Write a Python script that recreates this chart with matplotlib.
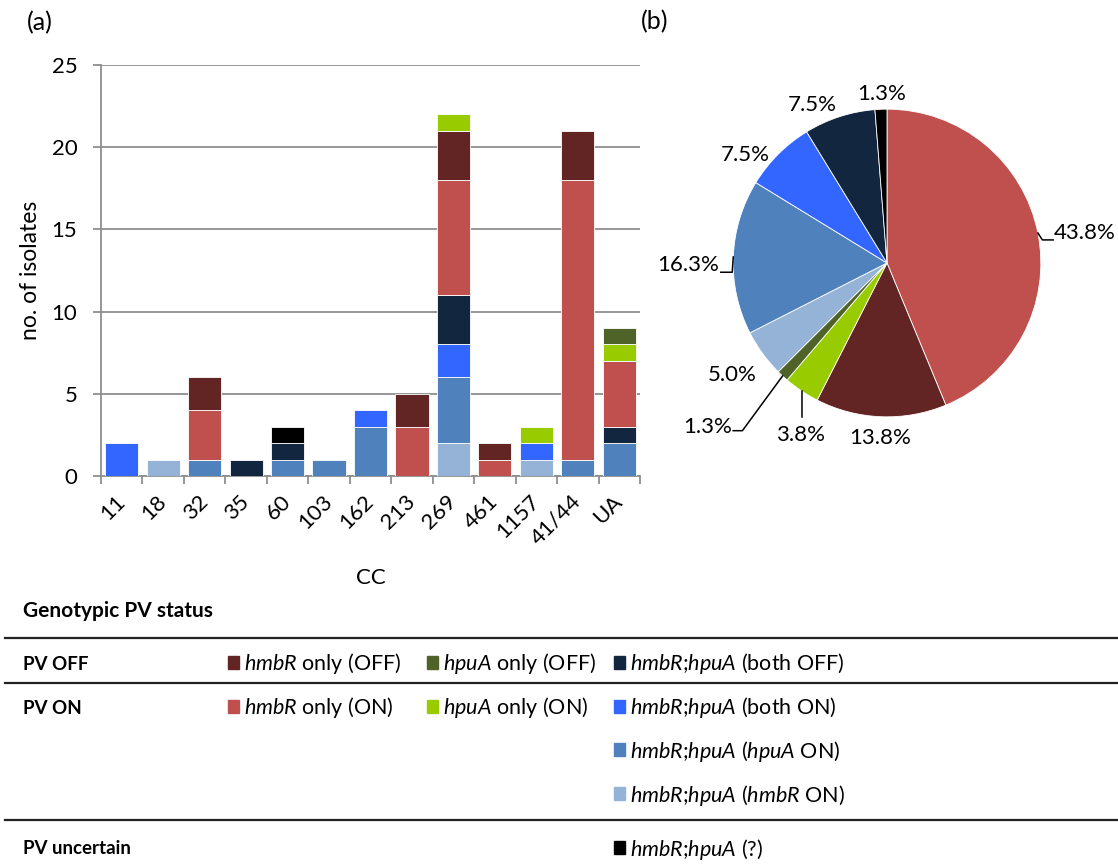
import numpy as np
import matplotlib.pyplot as plt
from matplotlib.patches import Rectangle

plt.rcParams['font.family'] = ['Lato', 'DejaVu Sans']
plt.rcParams['mathtext.fontset'] = 'custom'
plt.rcParams['mathtext.rm'] = 'Lato'
plt.rcParams['mathtext.it'] = 'Lato:italic'

# clonal complexes
cc = ['11', '18', '32', '35', '60', '103', '162', '213', '269', '461', '1157', '41/44', 'UA']

# number of isolates per genotypic PV status, stacked bottom to top
both_hmbr_on = [0, 1, 0, 0, 0, 0, 0, 0, 2, 0, 1, 0, 0]
both_hpua_on = [0, 0, 1, 0, 1, 1, 3, 0, 4, 0, 0, 1, 2]
both_on = [2, 0, 0, 0, 0, 0, 1, 0, 2, 0, 1, 0, 0]
both_off = [0, 0, 0, 1, 1, 0, 0, 0, 3, 0, 0, 0, 1]
hmbr_only_on = [0, 0, 3, 0, 0, 0, 0, 3, 7, 1, 0, 17, 4]
hmbr_only_off = [0, 0, 2, 0, 0, 0, 0, 2, 3, 1, 0, 3, 0]
hpua_only_on = [0, 0, 0, 0, 0, 0, 0, 0, 1, 0, 1, 0, 1]
hpua_only_off = [0, 0, 0, 0, 0, 0, 0, 0, 0, 0, 0, 0, 1]
both_unknown = [0, 0, 0, 0, 1, 0, 0, 0, 0, 0, 0, 0, 0]

stack = [both_hmbr_on, both_hpua_on, both_on, both_off, hmbr_only_on,
         hmbr_only_off, hpua_only_on, hpua_only_off, both_unknown]
colors = ['#95B3D7', '#4F81BD', '#3366FF', '#12263F', '#C0504D',
          '#632523', '#99CC00', '#4F6228', '#000000']
hh = r'$\mathit{hmbR}$;$\mathit{hpuA}$'
labels = [hh + r' ($\mathit{hmbR}$ ON)',
          hh + r' ($\mathit{hpuA}$ ON)',
          hh + ' (both ON)',
          hh + ' (both OFF)',
          r'$\mathit{hmbR}$ only (ON)',
          r'$\mathit{hmbR}$ only (OFF)',
          r'$\mathit{hpuA}$ only (ON)',
          r'$\mathit{hpuA}$ only (OFF)',
          hh + ' (?)']

# pie goes clockwise from the top in this order
pie_order = [4, 5, 6, 7, 0, 1, 2, 3, 8]

W, H = 1118, 864
fig = plt.figure(figsize=(W / 100, H / 100), dpi=100)

# ---------------- (a) stacked bars
ax = fig.add_axes([101 / W, (H - 476) / H, (640 - 101) / W, (476 - 65) / H])
x = np.arange(len(cc))
bottom = np.zeros(len(cc))
for vals, col in zip(stack, colors):
    vals = np.array(vals, dtype=float)
    m = vals > 0
    ax.bar(x[m], vals[m], 0.8, bottom=bottom[m], color=col,
           edgecolor='white', linewidth=0.6, zorder=3)
    bottom += vals

ax.set_xlim(-0.5, len(cc) - 0.5)
ax.set_ylim(0, 25)
ax.set_yticks(range(0, 26, 5))
ax.yaxis.grid(True, color='#8f8f8f', linewidth=1.3, zorder=0)
ax.set_xticks(x)
ax.set_xticklabels(cc, rotation=45, ha='right', va='center',
                   rotation_mode='anchor', fontsize=16)
ax.set_xticks(np.arange(-0.5, len(cc), 1), minor=True)
ax.tick_params(axis='x', which='major', length=0, pad=16)
ax.tick_params(axis='x', which='minor', length=6, color='#8f8f8f', width=1.3)
ax.tick_params(axis='y', length=6, color='#8f8f8f', width=1.3, labelsize=16, pad=11)
for s in ['top', 'right']:
    ax.spines[s].set_visible(False)
for s in ['left', 'bottom']:
    ax.spines[s].set_color('#8f8f8f')
    ax.spines[s].set_linewidth(1.3)
ax.set_xlabel('CC', fontsize=16, labelpad=14)
ax.set_ylabel('no. of isolates', fontsize=16.5, labelpad=8)

fig.text(27 / W, 1 - 23 / H, '(a)', fontsize=18, va='center', ha='left')
fig.text(641 / W, 1 - 22 / H, '(b)', fontsize=18, va='center', ha='left')

# ---------------- (b) pie
ax2 = fig.add_axes([(887 - 200) / W, (H - 263 - 200) / H, 400 / W, 400 / H])
counts = [sum(stack[i]) for i in pie_order]
pcols = [colors[i] for i in pie_order]
total = sum(counts)
wedges, _ = ax2.pie(counts, colors=pcols, startangle=90, counterclock=False,
                    radius=1, wedgeprops=dict(edgecolor='white', linewidth=0.6))
ax2.set_xlim(-1.3, 1.3)
ax2.set_ylim(-1.3, 1.3)
ax2.set_aspect('equal')
ax2.axis('off')

# label distance and angle shift for each slice (pie order)
lab_r = [1.30, 1.14, 1.25, 1.58, 1.24, 1.29, 1.16, 1.135, 1.10]
lab_da = [-2.6, 0.0, 7.0, -4.7, 0.0, 2.8, 7.7, 7.4, -0.5]
for w, c, r, da in zip(wedges, counts, lab_r, lab_da):
    mid = np.deg2rad((w.theta1 + w.theta2) / 2 + da)
    pct = np.floor(c / total * 1000 + 0.5) / 10
    ax2.text(r * np.cos(mid), r * np.sin(mid), f'{pct:.1f}%', fontsize=16,
             ha='center', va='center', clip_on=False)

# leader lines: slice index -> (elbow, end)
leaders = {0: [(1.01, 0.15), (1.08, 0.15)],
           5: [(-1.006, -0.06), (-1.08, -0.06)],
           2: [(None, -1.0), (None, -1.0)],
           3: [(-0.94, -1.09), (-1.0, -1.09)]}
for i, pts in leaders.items():
    w = wedges[i]
    mid = np.deg2rad((w.theta1 + w.theta2) / 2)
    ex, ey = np.cos(mid), np.sin(mid)
    xs, ys = [ex], [ey]
    for px, py in pts:
        xs.append(ex if px is None else px)
        ys.append(py)
    ax2.plot(xs, ys, color='black', linewidth=1.1, clip_on=False)

# ---------------- legend table
lg = fig.add_axes([0, 0, 1, 1])
lg.set_xlim(0, W)
lg.set_ylim(H, 0)
lg.axis('off')
lg.patch.set_visible(False)

lg.text(23, 611, 'Genotypic PV status', fontsize=15, fontweight='bold', va='center')
for yy in [638, 683, 820]:
    lg.plot([5, W], [yy, yy], color='#222222', linewidth=1.6)
lg.text(23, 664, 'PV OFF', fontsize=13.5, fontweight='bold', va='center')
lg.text(23, 708, 'PV ON', fontsize=13.5, fontweight='bold', va='center')
lg.text(23, 849, 'PV uncertain', fontsize=13.5, fontweight='bold', va='center')

col_x = [228, 427, 614]
# series index -> (column, row y)
slots = {5: (0, 664), 7: (1, 664), 3: (2, 664),
         4: (0, 708), 6: (1, 708), 2: (2, 708),
         1: (2, 751), 0: (2, 795), 8: (2, 849)}
for i, (c, yy) in slots.items():
    lg.add_patch(Rectangle((col_x[c], yy - 8), 11, 13, color=colors[i]))
    lg.text(col_x[c] + 16, yy, labels[i], fontsize=15.5, va='center')

fig.savefig('out.png', dpi=100)
